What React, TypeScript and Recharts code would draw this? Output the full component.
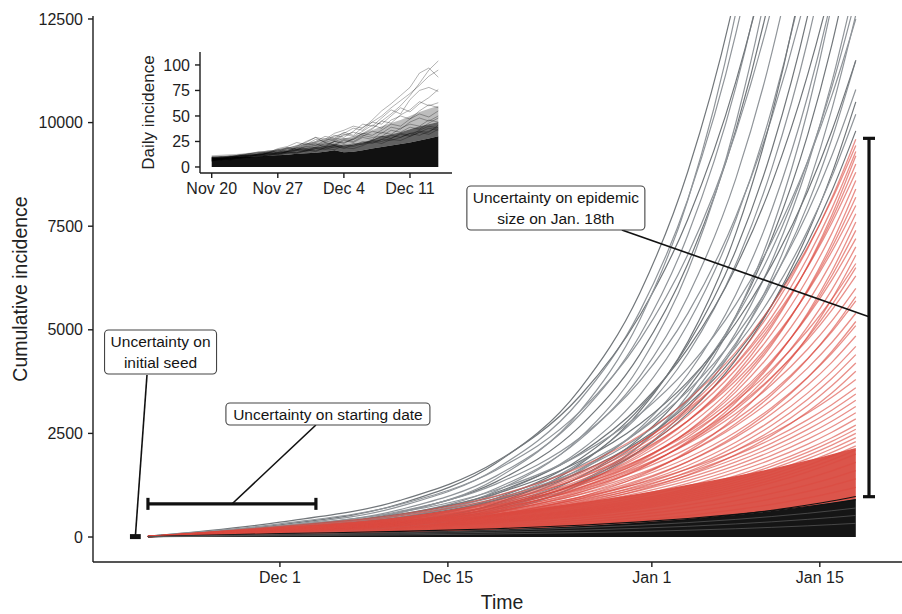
import React from 'react';
import { ComposedChart, Line, Area, XAxis, YAxis, ReferenceLine, ReferenceDot } from 'recharts';

// ---------- main chart data (days counted from Dec 1) ----------
const DAYS = [-11, 0, 10, 18, 25, 30, 34, 38, 41, 44, 46, 48];
const X_TICKS = [0, 14, 31, 45];
const X_TICK_LABELS = ['Dec 1', 'Dec 15', 'Jan 1', 'Jan 15'];
const Y_TICKS = [0, 2500, 5000, 7500, 10000, 12500];

// trajectories above the 95% interval (grey)
const GREY_RUNS = [
  [20, 293, 800, 1780, 3570, 5890, 8820, 13140, 17740, 23920, 29240, 35700],
  [20, 271, 739, 1643, 3300, 5445, 8151, 12144, 16401, 22110, 27027, 33000],
  [20, 242, 661, 1469, 2950, 4868, 7287, 10856, 14662, 19765, 24161, 29500],
  [20, 219, 598, 1330, 2670, 4406, 6595, 9826, 13270, 17889, 21867, 26700],
  [19, 193, 526, 1170, 2350, 3878, 5805, 8648, 11680, 15745, 19247, 23500],
  [19, 171, 466, 1036, 2080, 3432, 5138, 7654, 10338, 13936, 17035, 20800],
  [18, 154, 421, 936, 1880, 3102, 4644, 6918, 9344, 12596, 15397, 18800],
  [18, 147, 401, 891, 1790, 2954, 4421, 6587, 8896, 11993, 14660, 17900],
  [17, 130, 356, 792, 1590, 2624, 3927, 5851, 7902, 10653, 13022, 15900],
  [17, 119, 325, 722, 1450, 2393, 3582, 5336, 7207, 9715, 11876, 14500],
  [16, 110, 300, 667, 1340, 2211, 3310, 4931, 6660, 8978, 10975, 13400],
  [16, 103, 282, 627, 1260, 2079, 3112, 4637, 6262, 8442, 10319, 12600],
  [20, 359, 883, 1814, 3402, 5346, 7668, 10989, 14391, 18846, 22545, 27000],
  [20, 319, 785, 1613, 3024, 4752, 6816, 9768, 12792, 16752, 20040, 24000],
  [19, 253, 621, 1277, 2394, 3762, 5396, 7733, 10127, 13262, 15865, 19000],
  [18, 213, 523, 1075, 2016, 3168, 4544, 6512, 8528, 11168, 13360, 16000],
  [17, 173, 425, 874, 1638, 2574, 3692, 5291, 6929, 9074, 10855, 13000],
  [16, 153, 376, 773, 1449, 2277, 3266, 4681, 6130, 8027, 9603, 11500],
  [16, 140, 343, 706, 1323, 2079, 2982, 4274, 5597, 7329, 8768, 10500],
  [20, 194, 581, 1402, 3029, 5244, 8132, 12654, 17594, 24472, 30514, 38000],
  [19, 153, 459, 1107, 2391, 4140, 6420, 9990, 13890, 19320, 24090, 30000],
  [18, 112, 337, 812, 1753, 3036, 4708, 7326, 10186, 14168, 17666, 22000],
  [16, 82, 245, 590, 1275, 2208, 3424, 5328, 7408, 10304, 12848, 16000],
  [18, 269, 598, 1134, 1988, 2963, 4075, 5613, 7138, 9075, 10650, 12500],
  [17, 247, 550, 1043, 1829, 2726, 3749, 5164, 6567, 8349, 9798, 11500],
  [17, 232, 516, 980, 1717, 2560, 3521, 4849, 6167, 7841, 9202, 10800],
  [16, 219, 488, 925, 1622, 2417, 3325, 4580, 5824, 7405, 8690, 10200],
  [16, 211, 468, 889, 1558, 2323, 3195, 4400, 5596, 7115, 8350, 9800],
];

// trajectories inside the 95% interval (red)
const RED_RUNS = [
  [15, 206, 459, 871, 1526, 2275, 3130, 4310, 5482, 6970, 8179, 9600],
  [15, 200, 445, 843, 1479, 2204, 3032, 4176, 5310, 6752, 7924, 9300],
  [15, 194, 430, 816, 1431, 2133, 2934, 4041, 5139, 6534, 7668, 9000],
  [14, 185, 411, 780, 1367, 2038, 2804, 3861, 4911, 6244, 7327, 8600],
  [14, 176, 392, 744, 1304, 1943, 2673, 3682, 4682, 5953, 6986, 8200],
  [14, 168, 373, 707, 1240, 1849, 2543, 3502, 4454, 5663, 6646, 7800],
  [13, 159, 354, 671, 1177, 1754, 2412, 3323, 4225, 5372, 6305, 7400],
  [13, 151, 335, 635, 1113, 1659, 2282, 3143, 3997, 5082, 5964, 7000],
  [14, 258, 546, 992, 1682, 2448, 3308, 4460, 5594, 7002, 8136, 9450],
  [14, 240, 509, 924, 1566, 2279, 3080, 4154, 5210, 6521, 7577, 8800],
  [13, 218, 462, 840, 1424, 2072, 2800, 3776, 4736, 5928, 6888, 8000],
  [13, 197, 416, 756, 1282, 1865, 2520, 3398, 4262, 5335, 6199, 7200],
  [12, 177, 376, 683, 1157, 1684, 2275, 3068, 3848, 4817, 5597, 6500],
  [12, 158, 335, 609, 1032, 1502, 2030, 2738, 3434, 4298, 4994, 5800],
  [11, 142, 301, 546, 926, 1347, 1820, 2454, 3078, 3853, 4477, 5200],
  [14, 155, 364, 718, 1303, 1992, 2797, 3928, 5078, 6550, 7765, 9200],
  [13, 142, 333, 655, 1189, 1819, 2554, 3587, 4637, 5981, 7090, 8400],
  [13, 128, 301, 593, 1076, 1645, 2310, 3245, 4195, 5411, 6414, 7600],
  [12, 115, 269, 530, 963, 1472, 2067, 2904, 3754, 4842, 5739, 6800],
  [14, 231, 462, 805, 1320, 1874, 2475, 3280, 4046, 4990, 5735, 6600],
  [14, 221, 441, 769, 1260, 1789, 2363, 3131, 3862, 4763, 5475, 6300],
  [13, 210, 420, 732, 1200, 1704, 2250, 2982, 3678, 4536, 5214, 6000],
  [13, 200, 399, 695, 1140, 1619, 2138, 2833, 3494, 4309, 4953, 5700],
  [13, 189, 378, 659, 1080, 1534, 2025, 2684, 3310, 4082, 4693, 5400],
  [12, 179, 357, 622, 1020, 1448, 1913, 2535, 3126, 3856, 4432, 5100],
  [12, 170, 340, 592, 970, 1377, 1819, 2410, 2973, 3667, 4215, 4850],
  [12, 161, 322, 561, 920, 1306, 1725, 2286, 2820, 3478, 3997, 4600],
  [12, 154, 308, 537, 880, 1250, 1650, 2187, 2697, 3326, 3824, 4400],
  [11, 147, 294, 512, 840, 1193, 1575, 2087, 2575, 3175, 3650, 4200],
  [11, 140, 280, 488, 800, 1136, 1500, 1988, 2452, 3024, 3476, 4000],
  [11, 213, 388, 627, 958, 1292, 1642, 2086, 2497, 2991, 3371, 3800],
  [11, 202, 367, 594, 907, 1224, 1555, 1976, 2365, 2833, 3193, 3600],
  [11, 193, 352, 569, 869, 1173, 1490, 1894, 2267, 2715, 3060, 3450],
  [11, 185, 337, 545, 832, 1122, 1426, 1812, 2168, 2597, 2927, 3300],
  [10, 176, 321, 520, 794, 1071, 1361, 1729, 2070, 2479, 2794, 3150],
  [10, 168, 306, 495, 756, 1020, 1296, 1647, 1971, 2361, 2661, 3000],
  [10, 160, 291, 470, 718, 969, 1231, 1565, 1872, 2243, 2528, 2850],
  [10, 151, 275, 446, 680, 918, 1166, 1482, 1774, 2125, 2395, 2700],
  [10, 146, 265, 429, 655, 884, 1123, 1427, 1708, 2046, 2306, 2600],
  [10, 140, 255, 413, 630, 850, 1080, 1373, 1643, 1968, 2218, 2500],
  [10, 134, 245, 396, 605, 816, 1037, 1318, 1577, 1889, 2129, 2400],
  [9, 129, 235, 380, 580, 782, 994, 1263, 1511, 1810, 2040, 2300],
  [9, 123, 224, 363, 554, 748, 950, 1208, 1445, 1731, 1951, 2200],
  [9, 118, 214, 347, 529, 714, 907, 1153, 1380, 1653, 1863, 2100],
  [9, 112, 204, 330, 504, 680, 864, 1098, 1314, 1574, 1774, 2000],
  [9, 101, 184, 297, 454, 612, 778, 988, 1183, 1417, 1597, 1800],
  [8, 90, 163, 264, 403, 544, 691, 878, 1051, 1259, 1419, 1600],
  [8, 78, 143, 231, 353, 476, 605, 769, 920, 1102, 1242, 1400],
  [8, 67, 122, 198, 302, 408, 518, 659, 788, 944, 1064, 1200],
];

// dense core of the red bundle and the black (below interval) bundle
const RED_DENSE = [9, 150, 330, 560, 830, 1050, 1260, 1470, 1650, 1850, 2000, 2150];
const BLACK_TOP = [8, 65, 114, 177, 259, 342, 426, 531, 626, 739, 824, 920];
const BLACK_RUNS = [
  [8, 55, 100, 162, 247, 333, 423, 538, 644, 771, 869, 980],
  [8, 82, 135, 201, 285, 366, 447, 546, 634, 737, 814, 900],
];
const BLACK_STREAKS = [
  [6, 64, 105, 156, 222, 285, 348, 425, 494, 573, 634, 700],
  [5, 47, 78, 116, 165, 212, 258, 316, 367, 426, 471, 520],
  [4, 30, 50, 74, 105, 134, 164, 200, 233, 270, 299, 330],
];

// annotations (data units)
const SEED_BAR = { from: -12.5, to: -11.6, value: 10 };
const START_BAR = { from: -11, to: 3, value: 800, cap: 145 };
const SIZE_BAR = { day: 49.1, low: 973, high: 9620, cap: 0.5 };
const CONNECTORS = [
  [{ x: -11.08, y: 3909 }, { x: -12.04, y: 48 }],
  [{ x: 3.0, y: 2703 }, { x: -4.0, y: 796 }],
  [{ x: 28.5, y: 7408 }, { x: 49.1, y: 5316 }],
];
const NOTES = [
  { lines: ['Uncertainty on', 'initial seed'], day: -9.95, value: 4464, w: 112, h: 44 },
  { lines: ['Uncertainty on starting date'], day: 4.0, value: 2968, w: 204, h: 22 },
  { lines: ['Uncertainty on epidemic', 'size on Jan. 18th'], day: 23.0, value: 7939, w: 178, h: 44 },
];

// ---------- inset data (days counted from Dec 1) ----------
const INSET_DAYS = [-11, -10, -9, -8, -7, -6, -5, -4, -3, -2, -1, 0, 1, 2, 3, 4, 5, 6, 7, 8, 9, 10, 11, 12, 13];
const INSET_X_TICKS = [-11, -4, 3, 10];
const INSET_X_LABELS = ['Nov 20', 'Nov 27', 'Dec 4', 'Dec 11'];
const INSET_Y_TICKS = [0, 25, 50, 75, 100];
const INSET_CORE = [9.5, 9.5, 9.5, 10, 10, 10.5, 11, 11.5, 12, 13, 13.5, 14, 15, 16.5, 14.5, 15, 16.5, 18, 19.5, 21, 22.5, 24, 26, 28, 30];
const INSET_MID = [10.5, 10.5, 11, 11.5, 12, 13, 14, 15, 16, 17.5, 18.5, 19.5, 21, 23, 21, 22, 24, 27, 30, 32, 34, 37, 40, 42, 44];
const INSET_HALO = [11.5, 12, 12.5, 13, 14, 15, 16, 17.5, 19, 21, 23, 25, 27, 29, 28, 30, 33, 36, 40, 43, 46, 50, 54, 57, 60];
const INSET_RUNS = [
  [8, 9, 10, 9, 11, 12, 13, 12, 15, 17, 16, 20, 22, 25, 28, 27, 33, 38, 45, 52, 60, 70, 82, 95, 104],
  [7, 8, 9, 11, 10, 13, 15, 14, 18, 21, 24, 29, 27, 33, 36, 40, 38, 46, 55, 62, 70, 78, 92, 97, 88],
  [9, 8, 10, 12, 13, 14, 13, 17, 19, 18, 22, 25, 30, 28, 34, 31, 39, 44, 50, 58, 65, 72, 80, 89, 95],
  [6, 8, 7, 10, 12, 11, 14, 16, 15, 19, 23, 21, 26, 31, 29, 35, 42, 40, 48, 56, 52, 66, 75, 78, 74],
  [8, 10, 9, 11, 13, 15, 14, 18, 20, 24, 22, 27, 25, 30, 33, 38, 36, 44, 42, 50, 58, 54, 62, 68, 76],
  [7, 9, 11, 10, 12, 14, 16, 15, 19, 17, 21, 24, 28, 26, 31, 34, 32, 37, 45, 43, 51, 56, 64, 60, 63],
  [9, 7, 10, 12, 11, 13, 15, 17, 16, 20, 25, 29, 24, 27, 32, 30, 35, 41, 38, 46, 50, 47, 55, 61, 58],
  [6, 8, 9, 8, 10, 12, 11, 14, 17, 16, 19, 22, 20, 25, 23, 28, 33, 31, 36, 42, 40, 47, 52, 49, 55],
  [8, 9, 8, 11, 12, 11, 14, 13, 15, 19, 18, 21, 24, 22, 27, 25, 30, 35, 33, 39, 37, 44, 48, 45, 50],
  [7, 8, 10, 9, 11, 13, 12, 15, 14, 17, 20, 19, 23, 21, 26, 24, 29, 27, 34, 32, 38, 42, 40, 46, 44],
  [9, 10, 9, 11, 13, 12, 14, 16, 18, 17, 20, 23, 21, 25, 24, 27, 31, 29, 30, 36, 34, 39, 37, 43, 48],
  [6, 7, 9, 10, 9, 11, 13, 12, 15, 14, 17, 16, 19, 21, 20, 23, 22, 26, 30, 28, 33, 31, 36, 40, 38],
  [8, 7, 8, 10, 11, 10, 12, 14, 13, 16, 15, 18, 20, 19, 22, 21, 25, 24, 27, 31, 29, 33, 35, 34, 41],
  [7, 9, 8, 9, 10, 12, 11, 13, 15, 14, 16, 19, 18, 17, 21, 20, 23, 26, 25, 28, 32, 30, 34, 38, 36],
  [9, 8, 10, 11, 10, 12, 14, 13, 16, 18, 17, 15, 19, 21, 18, 22, 24, 23, 27, 26, 29, 33, 31, 35, 39],
  [6, 8, 7, 9, 11, 10, 12, 11, 14, 13, 16, 18, 17, 20, 19, 18, 21, 25, 23, 27, 26, 30, 34, 32, 37],
];

// ---------- tables for the library ----------
const mainRows = DAYS.map((d, i) => {
  const row: Record<string, any> = { day: d };
  GREY_RUNS.forEach((r, k) => (row['g' + k] = r[i]));
  RED_RUNS.forEach((r, k) => (row['r' + k] = r[i]));
  BLACK_RUNS.forEach((r, k) => (row['b' + k] = r[i]));
  BLACK_STREAKS.forEach((r, k) => (row['s' + k] = r[i]));
  row.blackBand = [0, BLACK_TOP[i]];
  row.redBand = [BLACK_TOP[i], RED_DENSE[i]];
  return row;
});

const insetRows = INSET_DAYS.map((d, i) => {
  const row: Record<string, any> = { day: d };
  INSET_RUNS.forEach((r, k) => (row['l' + k] = r[i]));
  row.core = [0, INSET_CORE[i]];
  row.mid = [INSET_CORE[i], INSET_MID[i]];
  row.halo = [INSET_MID[i], INSET_HALO[i]];
  return row;
});

const FONT = "'Liberation Sans', Arial, Helvetica, sans-serif";
const INK = '#1c1c1c';
const axisStyle = { stroke: INK, strokeWidth: 1.4 };
const tickStyle = { fill: '#1e1e1e', fontSize: 16, fontFamily: FONT };

const NoteBox = (props: any) => {
  const { cx, cy, note } = props;
  if (cx == null || cy == null) return null;
  const n = note.lines.length;
  return (
    <g>
      <rect x={cx - note.w / 2} y={cy - note.h / 2} width={note.w} height={note.h} rx={4} ry={4}
        fill="#fff" stroke="#444" strokeWidth={1.1} />
      {note.lines.map((t: string, i: number) => (
        <text key={i} x={cx} y={cy + (i - (n - 1) / 2) * 21.6} textAnchor="middle" dominantBaseline="central"
          fontFamily={FONT} fontSize={15.5} fill="#151515">{t}</text>
      ))}
    </g>
  );
};

const YTitle = (props: any) => {
  const vb = props.viewBox || { x: 0, y: 16, width: 93, height: 546 };
  const x = vb.x + 20;
  const y = vb.y + vb.height / 2;
  return (
    <text x={x} y={y} transform={`rotate(-90 ${x} ${y})`} textAnchor="middle" dominantBaseline="central"
      fontFamily={FONT} fontSize={19.5} fill="#222">Cumulative incidence</text>
  );
};

const XTitle = (props: any) => {
  const vb = props.viewBox || { x: 93, y: 562, width: 809, height: 52 };
  return (
    <text x={vb.x + vb.width / 2 + 4.5} y={vb.y + 47} textAnchor="middle"
      fontFamily={FONT} fontSize={19.5} fill="#222">Time</text>
  );
};

const InsetYTitle = (props: any) => {
  const vb = props.viewBox || { x: 20, y: 12, width: 60, height: 121 };
  const x = vb.x + 8;
  const y = vb.y + vb.height / 2;
  return (
    <text x={x} y={y} transform={`rotate(-90 ${x} ${y})`} textAnchor="middle" dominantBaseline="central"
      fontFamily={FONT} fontSize={17} fill="#222">Daily incidence</text>
  );
};

export default function App() {
  return (
    <div style={{ position: 'absolute', left: 0, top: 0, width: 902, height: 614, background: '#fff', overflow: 'hidden' }}>
      <ComposedChart width={902} height={614} data={mainRows} margin={{ top: 16, right: 0, bottom: 0, left: 0 }}>
        <XAxis dataKey="day" type="number" domain={[-15.58, 51.85]} allowDataOverflow ticks={X_TICKS} interval={0}
          tickFormatter={(v: number) => X_TICK_LABELS[X_TICKS.indexOf(v)] ?? ''}
          height={52} tickSize={5} tickMargin={5} axisLine={axisStyle} tickLine={axisStyle} tick={tickStyle}
          label={XTitle} />
        <YAxis type="number" domain={[-603, 12572]} allowDataOverflow ticks={Y_TICKS} interval={0}
          width={93} tickSize={5} tickMargin={5} axisLine={axisStyle} tickLine={axisStyle} tick={tickStyle}
          label={YTitle} />
        {GREY_RUNS.map((_, k) => (
          <Line key={'g' + k} dataKey={'g' + k} type="monotone" stroke={k % 3 === 0 ? '#72777b' : '#90959a'}
            strokeWidth={1.2} dot={false} activeDot={false} isAnimationActive={false} />
        ))}
        <Area dataKey="redBand" type="monotone" stroke="none" fill="#d8473c" fillOpacity={0.92}
          dot={false} activeDot={false} isAnimationActive={false} />
        {RED_RUNS.map((_, k) => (
          <Line key={'r' + k} dataKey={'r' + k} type="monotone" stroke="#dc4a40" strokeOpacity={0.62}
            strokeWidth={1.3} dot={false} activeDot={false} isAnimationActive={false} />
        ))}
        <Area dataKey="blackBand" type="monotone" stroke="none" fill="#151515" fillOpacity={1}
          dot={false} activeDot={false} isAnimationActive={false} />
        {BLACK_RUNS.map((_, k) => (
          <Line key={'b' + k} dataKey={'b' + k} type="monotone" stroke="#111" strokeWidth={1.1}
            dot={false} activeDot={false} isAnimationActive={false} />
        ))}
        {BLACK_STREAKS.map((_, k) => (
          <Line key={'s' + k} dataKey={'s' + k} type="monotone" stroke="#5c5c5c" strokeWidth={0.7}
            dot={false} activeDot={false} isAnimationActive={false} />
        ))}

        {/* error bars */}
        <ReferenceLine ifOverflow="visible" segment={[{ x: SEED_BAR.from, y: SEED_BAR.value }, { x: SEED_BAR.to, y: SEED_BAR.value }]}
          stroke="#111" strokeWidth={5} />
        <ReferenceLine ifOverflow="visible" segment={[{ x: START_BAR.from, y: START_BAR.value }, { x: START_BAR.to, y: START_BAR.value }]}
          stroke="#111" strokeWidth={3.2} />
        <ReferenceLine ifOverflow="visible" segment={[{ x: START_BAR.from, y: START_BAR.value - START_BAR.cap }, { x: START_BAR.from, y: START_BAR.value + START_BAR.cap }]}
          stroke="#111" strokeWidth={3.2} />
        <ReferenceLine ifOverflow="visible" segment={[{ x: START_BAR.to, y: START_BAR.value - START_BAR.cap }, { x: START_BAR.to, y: START_BAR.value + START_BAR.cap }]}
          stroke="#111" strokeWidth={3.2} />
        <ReferenceLine ifOverflow="visible" segment={[{ x: SIZE_BAR.day, y: SIZE_BAR.low }, { x: SIZE_BAR.day, y: SIZE_BAR.high }]}
          stroke="#111" strokeWidth={3.2} />
        <ReferenceLine ifOverflow="visible" segment={[{ x: SIZE_BAR.day - SIZE_BAR.cap, y: SIZE_BAR.low }, { x: SIZE_BAR.day + SIZE_BAR.cap, y: SIZE_BAR.low }]}
          stroke="#111" strokeWidth={3.2} />
        <ReferenceLine ifOverflow="visible" segment={[{ x: SIZE_BAR.day - SIZE_BAR.cap, y: SIZE_BAR.high }, { x: SIZE_BAR.day + SIZE_BAR.cap, y: SIZE_BAR.high }]}
          stroke="#111" strokeWidth={3.2} />

        {/* connectors */}
        {CONNECTORS.map((seg, k) => (
          <ReferenceLine key={'c' + k} ifOverflow="visible" segment={seg} stroke="#111" strokeWidth={1.6} />
        ))}
        {NOTES.map((note, k) => (
          <ReferenceDot key={'n' + k} x={note.day} y={note.value} r={1} ifOverflow="visible"
            shape={(p: any) => <NoteBox {...p} note={note} />} />
        ))}
      </ComposedChart>

      <div style={{ position: 'absolute', left: 120, top: 40, width: 340, height: 165 }}>
        <ComposedChart width={340} height={165} data={insetRows} margin={{ top: 12, right: 8, bottom: 0, left: 20 }}>
          <XAxis dataKey="day" type="number" domain={[-12.24, 14.45]} allowDataOverflow ticks={INSET_X_TICKS} interval={0}
            tickFormatter={(v: number) => INSET_X_LABELS[INSET_X_TICKS.indexOf(v)] ?? ''}
            height={32} tickSize={5} tickMargin={5} axisLine={axisStyle} tickLine={axisStyle} tick={tickStyle} />
          <YAxis type="number" domain={[-5.9, 112.7]} allowDataOverflow ticks={INSET_Y_TICKS} interval={0}
            width={60} tickSize={5} tickMargin={5} axisLine={axisStyle} tickLine={axisStyle} tick={tickStyle}
            label={InsetYTitle} />
          <Area dataKey="halo" type="linear" stroke="none" fill="#333" fillOpacity={0.32}
            dot={false} activeDot={false} isAnimationActive={false} />
          <Area dataKey="mid" type="linear" stroke="none" fill="#1e1e1e" fillOpacity={0.7}
            dot={false} activeDot={false} isAnimationActive={false} />
          <Area dataKey="core" type="linear" stroke="none" fill="#111" fillOpacity={1}
            dot={false} activeDot={false} isAnimationActive={false} />
          {INSET_RUNS.map((_, k) => (
            <Line key={'l' + k} dataKey={'l' + k} type="linear" stroke="#000" strokeOpacity={0.38}
              strokeWidth={0.8} dot={false} activeDot={false} isAnimationActive={false} />
          ))}
        </ComposedChart>
      </div>
    </div>
  );
}
